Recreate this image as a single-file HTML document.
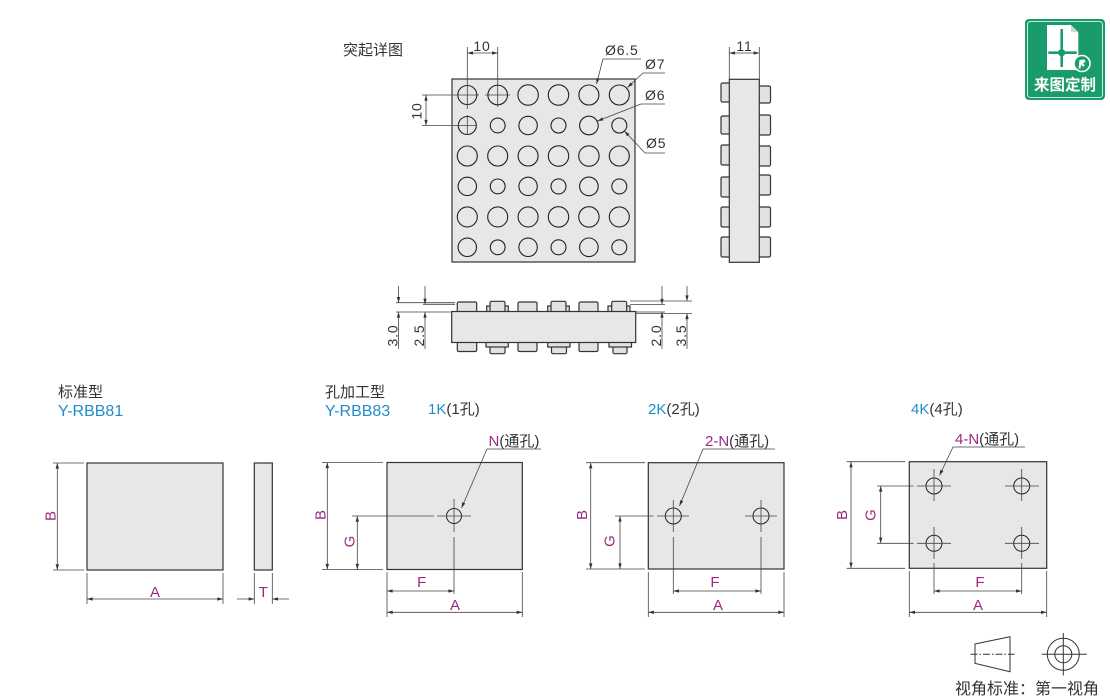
<!DOCTYPE html>
<html><head><meta charset="utf-8"><style>
html,body{margin:0;padding:0;background:#fff;}
svg{display:block;}
text{font-family:"Liberation Sans","Noto Sans CJK SC",sans-serif;}
.d{stroke:#444;stroke-width:0.8;fill:none;}
.o{stroke:#333;stroke-width:1.2;fill:#e7e7e9;}
.c{stroke:#222;stroke-width:1.1;fill:none;}
.b{stroke:#333;stroke-width:1.2;fill:#e2e2e4;}
.t{fill:#333;font-size:14px;letter-spacing:0.8px;}
.m{fill:#9c2a80;font-size:15px;}
.bl{fill:#1f8dcb;}
.k{fill:#333;}
</style></head><body>
<svg width="1110" height="697" viewBox="0 0 1110 697" xmlns="http://www.w3.org/2000/svg">
<defs>
<marker id="ar" viewBox="0 0 10 6" refX="10" refY="3" markerWidth="8" markerHeight="3.4" markerUnits="userSpaceOnUse" orient="auto-start-reverse"><path d="M0,0L10,3L0,6z" fill="#333"/></marker>
</defs>

<!-- ===== TOP DETAIL ===== -->
<text x="343" y="55" style="font-size:15px" class="k">突起详图</text>
<rect x="452" y="79" width="183" height="183" class="o"/>
<g class="c">
<!-- row1 -->
<circle cx="467.3" cy="95" r="9.5"/><circle cx="497.7" cy="95" r="9.8"/><circle cx="528.1" cy="95" r="10.2"/><circle cx="558.5" cy="95" r="10.2"/><circle cx="588.9" cy="95" r="10"/><circle cx="619.3" cy="95" r="10"/>
<!-- row2 -->
<circle cx="467.3" cy="125.5" r="9"/><circle cx="497.7" cy="125.5" r="7.4"/><circle cx="528.1" cy="125.5" r="9.2"/><circle cx="558.5" cy="125.5" r="7.5"/><circle cx="588.9" cy="125.5" r="9.3"/><circle cx="619.3" cy="125.5" r="7.5"/>
<!-- row3 -->
<circle cx="467.3" cy="156" r="10"/><circle cx="497.7" cy="156" r="10"/><circle cx="528.1" cy="156" r="10"/><circle cx="558.5" cy="156" r="10.2"/><circle cx="588.9" cy="156" r="10.2"/><circle cx="619.3" cy="156" r="10"/>
<!-- row4 -->
<circle cx="467.3" cy="186.4" r="9.2"/><circle cx="497.7" cy="186.4" r="7.4"/><circle cx="528.1" cy="186.4" r="9.2"/><circle cx="558.5" cy="186.4" r="7.5"/><circle cx="588.9" cy="186.4" r="9.3"/><circle cx="619.3" cy="186.4" r="7.5"/>
<!-- row5 -->
<circle cx="467.3" cy="216.9" r="10"/><circle cx="497.7" cy="216.9" r="10"/><circle cx="528.1" cy="216.9" r="10"/><circle cx="558.5" cy="216.9" r="10.2"/><circle cx="588.9" cy="216.9" r="10.2"/><circle cx="619.3" cy="216.9" r="10"/>
<!-- row6 -->
<circle cx="467.3" cy="247.3" r="9.2"/><circle cx="497.7" cy="247.3" r="7.4"/><circle cx="528.1" cy="247.3" r="9.2"/><circle cx="558.5" cy="247.3" r="7.5"/><circle cx="588.9" cy="247.3" r="9.3"/><circle cx="619.3" cy="247.3" r="7.5"/>
</g>
<!-- crosshairs / extension lines -->
<g class="d">
<line x1="467.3" y1="47" x2="467.3" y2="109"/>
<line x1="497.7" y1="47" x2="497.7" y2="107"/>
<line x1="422" y1="95" x2="479" y2="95"/>
<line x1="485" y1="95" x2="510" y2="95"/>
<line x1="422" y1="125.5" x2="477" y2="125.5"/>
<line x1="467.3" y1="115" x2="467.3" y2="135"/>
<line x1="467.3" y1="53" x2="497.7" y2="53" marker-start="url(#ar)" marker-end="url(#ar)"/>
<line x1="426" y1="95" x2="426" y2="125.5" marker-start="url(#ar)" marker-end="url(#ar)"/>
</g>
<text x="482" y="51" text-anchor="middle" class="t">10</text>
<text transform="translate(421.5,111) rotate(-90)" text-anchor="middle" class="t">10</text>
<!-- diameter leaders -->
<g class="d">
<polyline points="641,59 603,59 596.5,84" marker-end="url(#ar)"/>
<polyline points="665,73 643,73 627.5,87.5" marker-end="url(#ar)"/>
<polyline points="665,104 641,104 597.5,121" marker-end="url(#ar)"/>
<polyline points="665,153 645,153 624.4,131" marker-end="url(#ar)"/>
</g>
<text x="605" y="55" class="t">Ø6.5</text>
<text x="645" y="69" class="t">Ø7</text>
<text x="645" y="100" class="t">Ø6</text>
<text x="646" y="148" class="t">Ø5</text>

<!-- ===== SIDE VIEW ===== -->
<g class="b">
<rect x="721" y="83" width="10" height="19" rx="1.5"/>
<rect x="721" y="116" width="10" height="18" rx="1.5"/>
<rect x="721" y="145" width="10" height="20" rx="1.5"/>
<rect x="721" y="177" width="10" height="20" rx="1.5"/>
<rect x="721" y="207" width="10" height="20" rx="1.5"/>
<rect x="721" y="237" width="10" height="20" rx="1.5"/>
<rect x="757" y="86" width="13.5" height="17" rx="1.5"/>
<rect x="757" y="115" width="13.5" height="20" rx="1.5"/>
<rect x="757" y="146" width="13.5" height="20" rx="1.5"/>
<rect x="757" y="175" width="13.5" height="20" rx="1.5"/>
<rect x="757" y="207" width="13.5" height="20" rx="1.5"/>
<rect x="757" y="237" width="13.5" height="20" rx="1.5"/>
</g>
<rect x="729.3" y="79.3" width="30" height="183" class="o"/>
<g class="d">
<line x1="729.3" y1="47" x2="729.3" y2="79"/>
<line x1="759.3" y1="47" x2="759.3" y2="79"/>
<line x1="729.3" y1="53" x2="759.3" y2="53" marker-start="url(#ar)" marker-end="url(#ar)"/>
</g>
<text x="744.5" y="51" text-anchor="middle" class="t">11</text>

<!-- ===== BOTTOM VIEW ===== -->
<g class="b">
<rect x="457.3" y="302" width="19.4" height="12" rx="1.5"/>
<rect x="486.7" y="306" width="21.6" height="8"/>
<rect x="490" y="301.3" width="15" height="12" rx="1.5"/>
<rect x="518" y="302" width="19" height="12" rx="1.5"/>
<rect x="547.7" y="306" width="21.6" height="8"/>
<rect x="551" y="301.3" width="15" height="12" rx="1.5"/>
<rect x="579" y="302" width="19" height="12" rx="1.5"/>
<rect x="608" y="306" width="22" height="8"/>
<rect x="611.7" y="301.3" width="15" height="12" rx="1.5"/>

<rect x="457.3" y="340" width="19.4" height="11.5" rx="1.5"/>
<rect x="490" y="340" width="15" height="13.7" rx="1.5"/>
<rect x="486" y="340" width="22.3" height="7"/>
<rect x="518" y="340" width="19" height="11.5" rx="1.5"/>
<rect x="551.5" y="340" width="15" height="13.7" rx="1.5"/>
<rect x="547.7" y="340" width="22.3" height="7"/>
<rect x="579" y="340" width="19" height="11.5" rx="1.5"/>
<rect x="613" y="340" width="14" height="13.7" rx="1.5"/>
<rect x="609" y="340" width="22.5" height="7"/>
</g>
<rect x="451.7" y="311.5" width="184" height="31" class="o"/>
<g class="d">
<line x1="396" y1="302.7" x2="455" y2="302.7"/>
<line x1="423" y1="304.3" x2="455" y2="304.3"/>
<line x1="396" y1="312" x2="451" y2="312"/>
<line x1="630" y1="301" x2="692" y2="301"/>
<line x1="630" y1="304.5" x2="665" y2="304.5"/>
<line x1="636" y1="312" x2="665" y2="312"/>
<line x1="636" y1="313.5" x2="692" y2="313.5"/>
<line x1="398.5" y1="286" x2="398.5" y2="302.7" marker-end="url(#ar)"/>
<line x1="398.5" y1="349" x2="398.5" y2="312" marker-end="url(#ar)"/>
<line x1="425" y1="286" x2="425" y2="304.3" marker-end="url(#ar)"/>
<line x1="425" y1="349" x2="425" y2="312" marker-end="url(#ar)"/>
<line x1="662" y1="286" x2="662" y2="304.5" marker-end="url(#ar)"/>
<line x1="662" y1="349" x2="662" y2="312" marker-end="url(#ar)"/>
<line x1="687" y1="286" x2="687" y2="301" marker-end="url(#ar)"/>
<line x1="687" y1="349" x2="687" y2="313.5" marker-end="url(#ar)"/>
</g>
<text transform="translate(397.5,335.5) rotate(-90)" text-anchor="middle" class="t">3.0</text>
<text transform="translate(424,335.5) rotate(-90)" text-anchor="middle" class="t">2.5</text>
<text transform="translate(661,335.5) rotate(-90)" text-anchor="middle" class="t">2.0</text>
<text transform="translate(686,335.5) rotate(-90)" text-anchor="middle" class="t">3.5</text>

<!-- ===== LOGO ===== -->
<rect x="1025" y="19" width="80" height="81" rx="4" fill="#1a9b6c"/>
<rect x="1027.5" y="21.5" width="75" height="76" rx="3" fill="none" stroke="#fff" stroke-width="0.8"/>
<path d="M1047,25H1071L1078.3,32.3V70H1047Z" fill="#fff"/>
<path d="M1071,25V32.3H1078.3Z" fill="#c9d9d2"/>
<line x1="1061.7" y1="29" x2="1061.7" y2="67" stroke="#1a9b6c" stroke-width="2.6"/>
<line x1="1048.3" y1="52.7" x2="1076.7" y2="52.7" stroke="#1a9b6c" stroke-width="2.6"/>
<circle cx="1061.7" cy="52.7" r="3.6" fill="#1a9b6c"/>
<circle cx="1082" cy="63.5" r="8" fill="#1a9b6c" stroke="#fff" stroke-width="1.6"/>
<path d="M1078.5,68.5L1079.5,60L1084.5,59.5L1085.5,62L1083,63L1085,66L1082.5,66.5L1081,64.5L1080.5,68.5Z" fill="#fff"/>
<text x="1065" y="90" text-anchor="middle" style="font-size:15.5px;font-weight:bold;fill:#fff;font-family:'Noto Sans CJK SC',sans-serif;">来图定制</text>

<!-- ===== STANDARD ===== -->
<text x="58" y="397" style="font-size:15px" class="k">标准型</text>
<text x="58" y="416" style="font-size:16px" class="bl">Y-RBB81</text>
<rect x="87" y="463" width="136" height="107" class="o"/>
<rect x="254.3" y="463" width="18" height="107" class="o"/>
<g class="d">
<line x1="53" y1="463" x2="84" y2="463"/>
<line x1="53" y1="570" x2="84" y2="570"/>
<line x1="57.3" y1="463" x2="57.3" y2="570" marker-start="url(#ar)" marker-end="url(#ar)"/>
<line x1="87" y1="573" x2="87" y2="604"/>
<line x1="223" y1="573" x2="223" y2="604"/>
<line x1="87" y1="599" x2="223" y2="599" marker-start="url(#ar)" marker-end="url(#ar)"/>
<line x1="254.3" y1="573" x2="254.3" y2="604"/>
<line x1="272.3" y1="573" x2="272.3" y2="604"/>
<line x1="237" y1="599" x2="254.3" y2="599" marker-end="url(#ar)"/>
<line x1="289" y1="599" x2="272.3" y2="599" marker-end="url(#ar)"/>
</g>
<text transform="translate(50,516) rotate(-90)" text-anchor="middle" dy="0.35em" class="m">B</text>
<text x="155" y="597" text-anchor="middle" class="m">A</text>
<text x="263.3" y="597" text-anchor="middle" class="m">T</text>

<!-- ===== 1K ===== -->
<text x="325" y="397" style="font-size:15px" class="k">孔加工型</text>
<text x="325" y="416" style="font-size:16px" class="bl">Y-RBB83</text>
<text x="428" y="414" style="font-size:15px"><tspan class="bl">1K</tspan><tspan class="k">(1孔)</tspan></text>
<rect x="387" y="462.5" width="135.3" height="107" class="o"/>
<g class="d">
<circle cx="454" cy="516" r="7.5" stroke="#222" stroke-width="1"/>
<line x1="437" y1="516" x2="471" y2="516"/>
<line x1="454" y1="499" x2="454" y2="532"/>
<line x1="454" y1="537" x2="454" y2="594"/>
<line x1="352" y1="516" x2="434" y2="516"/>
<line x1="322" y1="462.5" x2="383" y2="462.5"/>
<line x1="322" y1="569.5" x2="383" y2="569.5"/>
<line x1="327.3" y1="462.5" x2="327.3" y2="569.5" marker-start="url(#ar)" marker-end="url(#ar)"/>
<line x1="357.3" y1="516" x2="357.3" y2="569.5" marker-start="url(#ar)" marker-end="url(#ar)"/>
<line x1="387" y1="572" x2="387" y2="617"/>
<line x1="522.3" y1="572" x2="522.3" y2="617"/>
<line x1="387" y1="591" x2="454" y2="591" marker-start="url(#ar)" marker-end="url(#ar)"/>
<line x1="387" y1="612.3" x2="522.3" y2="612.3" marker-start="url(#ar)" marker-end="url(#ar)"/>
<polyline points="541,449 487,449 461.5,508" marker-end="url(#ar)"/>
</g>
<text x="488.5" y="446" style="font-size:15px"><tspan class="m">N</tspan><tspan class="k">(通孔)</tspan></text>
<text transform="translate(320,515) rotate(-90)" text-anchor="middle" dy="0.35em" class="m">B</text>
<text transform="translate(349,541.5) rotate(-90)" text-anchor="middle" dy="0.35em" class="m">G</text>
<text x="421.7" y="587" text-anchor="middle" class="m">F</text>
<text x="455" y="610" text-anchor="middle" class="m">A</text>

<!-- ===== 2K ===== -->
<text x="648" y="414" style="font-size:15px"><tspan class="bl">2K</tspan><tspan class="k">(2孔)</tspan></text>
<rect x="648.3" y="462.7" width="135.7" height="106.3" class="o"/>
<g class="d">
<circle cx="673.3" cy="516" r="8" stroke="#222" stroke-width="1"/>
<circle cx="761" cy="516" r="8" stroke="#222" stroke-width="1"/>
<line x1="657" y1="516" x2="689" y2="516"/>
<line x1="745" y1="516" x2="777" y2="516"/>
<line x1="673.3" y1="500" x2="673.3" y2="532"/>
<line x1="761" y1="500" x2="761" y2="532"/>
<line x1="673.3" y1="537" x2="673.3" y2="594"/>
<line x1="761" y1="537" x2="761" y2="594"/>
<line x1="615" y1="516" x2="653.5" y2="516"/>
<line x1="586" y1="462.7" x2="645" y2="462.7"/>
<line x1="586" y1="569" x2="645" y2="569"/>
<line x1="590.7" y1="462.7" x2="590.7" y2="569" marker-start="url(#ar)" marker-end="url(#ar)"/>
<line x1="620" y1="516" x2="620" y2="569" marker-start="url(#ar)" marker-end="url(#ar)"/>
<line x1="648.3" y1="572" x2="648.3" y2="617"/>
<line x1="784" y1="572" x2="784" y2="617"/>
<line x1="673.3" y1="591" x2="761" y2="591" marker-start="url(#ar)" marker-end="url(#ar)"/>
<line x1="648.3" y1="612.3" x2="784" y2="612.3" marker-start="url(#ar)" marker-end="url(#ar)"/>
<polyline points="775,449 703,449 679.5,506" marker-end="url(#ar)"/>
</g>
<text x="705" y="446" style="font-size:15px"><tspan class="m">2-N</tspan><tspan class="k">(通孔)</tspan></text>
<text transform="translate(581.7,515) rotate(-90)" text-anchor="middle" dy="0.35em" class="m">B</text>
<text transform="translate(609.3,541) rotate(-90)" text-anchor="middle" dy="0.35em" class="m">G</text>
<text x="715" y="587" text-anchor="middle" class="m">F</text>
<text x="718" y="610" text-anchor="middle" class="m">A</text>

<!-- ===== 4K ===== -->
<text x="911" y="414" style="font-size:15px"><tspan class="bl">4K</tspan><tspan class="k">(4孔)</tspan></text>
<rect x="909.3" y="461.7" width="137.4" height="106.6" class="o"/>
<g class="d">
<circle cx="934" cy="486" r="8" stroke="#222" stroke-width="1"/>
<circle cx="1021.7" cy="486" r="8" stroke="#222" stroke-width="1"/>
<circle cx="934" cy="543.3" r="8" stroke="#222" stroke-width="1"/>
<circle cx="1021.7" cy="543.3" r="8" stroke="#222" stroke-width="1"/>
<line x1="917" y1="486" x2="951" y2="486"/>
<line x1="1005" y1="486" x2="1039" y2="486"/>
<line x1="917" y1="543.3" x2="951" y2="543.3"/>
<line x1="1005" y1="543.3" x2="1039" y2="543.3"/>
<line x1="934" y1="469" x2="934" y2="501"/>
<line x1="1021.7" y1="469" x2="1021.7" y2="501"/>
<line x1="934" y1="527" x2="934" y2="559"/>
<line x1="1021.7" y1="527" x2="1021.7" y2="559"/>
<line x1="934" y1="563" x2="934" y2="594"/>
<line x1="1021.7" y1="563" x2="1021.7" y2="594"/>
<line x1="877" y1="486" x2="913.5" y2="486"/>
<line x1="877" y1="543.3" x2="913.5" y2="543.3"/>
<line x1="846.7" y1="461.7" x2="905" y2="461.7"/>
<line x1="846.7" y1="568.3" x2="905" y2="568.3"/>
<line x1="851" y1="461.7" x2="851" y2="568.3" marker-start="url(#ar)" marker-end="url(#ar)"/>
<line x1="880.7" y1="486" x2="880.7" y2="543.3" marker-start="url(#ar)" marker-end="url(#ar)"/>
<line x1="909.3" y1="571" x2="909.3" y2="617"/>
<line x1="1046.7" y1="571" x2="1046.7" y2="617"/>
<line x1="934" y1="591" x2="1021.7" y2="591" marker-start="url(#ar)" marker-end="url(#ar)"/>
<line x1="909.3" y1="612.3" x2="1046.7" y2="612.3" marker-start="url(#ar)" marker-end="url(#ar)"/>
<polyline points="1025,447 953,447 939.5,475.5" marker-end="url(#ar)"/>
</g>
<text x="955" y="444" style="font-size:15px"><tspan class="m">4-N</tspan><tspan class="k">(通孔)</tspan></text>
<text transform="translate(841.7,515) rotate(-90)" text-anchor="middle" dy="0.35em" class="m">B</text>
<text transform="translate(870,515) rotate(-90)" text-anchor="middle" dy="0.35em" class="m">G</text>
<text x="980" y="587" text-anchor="middle" class="m">F</text>
<text x="978" y="610" text-anchor="middle" class="m">A</text>

<!-- ===== PROJECTION ICON ===== -->
<g stroke="#333" stroke-width="1" fill="none">
<polygon points="975,644 1010,636.7 1010,671.7 975,663.3"/>
<line x1="970.5" y1="654.3" x2="1014.5" y2="654.3" stroke-dasharray="7,2,1.5,2"/>
<circle cx="1063.3" cy="654.3" r="16"/>
<circle cx="1063.3" cy="654.3" r="8.5"/>
<line x1="1041.7" y1="654.3" x2="1086.7" y2="654.3"/>
<line x1="1063.3" y1="633" x2="1063.3" y2="675.5"/>
</g>
<text x="955" y="694" style="font-size:16px" class="k">视角标准：第一视角</text>
</svg>
</body></html>
